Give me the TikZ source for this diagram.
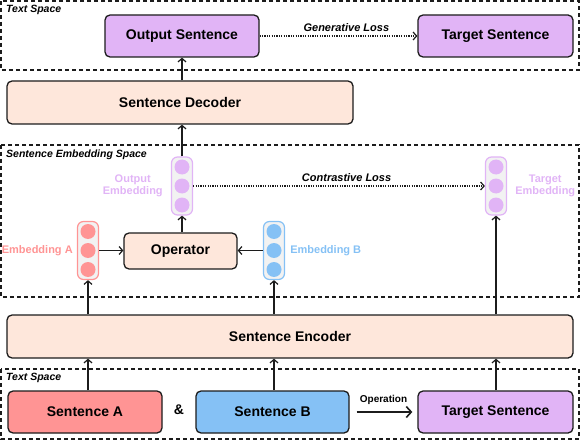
\documentclass[tikz,border=0pt]{standalone}
\usepackage{fontspec}
\setmainfont{Liberation Sans}
\usetikzlibrary{arrows.meta, calc, positioning}
\definecolor{SpLavender}{RGB}{225,180,246}
\definecolor{SpPeach}{RGB}{254,231,219}
\definecolor{SpRed}{RGB}{255,148,148}
\definecolor{SpBlue}{RGB}{133,193,245}
\definecolor{SpInk}{RGB}{28,28,28}
\definecolor{SpVecBg}{RGB}{242,242,242}

% embedding vector: name, position, colour
\newcommand{\embvec}[3]{%
  \node[vec, draw=#3] (#1) at (#2) {};
  \foreach \dy in {-19,0,19}
    \fill[#3] ($(#1)+(0,\dy)$) circle[radius=7.5pt];
}

\begin{document}
\begin{tikzpicture}[x=1pt, y=-1pt,
    box/.style={rectangle, rounded corners=5pt, draw=SpInk, line width=1.3pt,
                font=\fontsize{14}{16}\selectfont\bfseries, inner sep=0pt},
    vec/.style={rectangle, rounded corners=6pt, fill=SpVecBg, line width=1.2pt,
                minimum width=21pt, minimum height=58pt, inner sep=0pt},
    region/.style={draw=SpInk, line width=1.3pt, dash pattern=on 4pt off 3pt},
    tag/.style={font=\fontsize{10.5}{12}\selectfont\bfseries\itshape, anchor=west, inner sep=0pt},
    veclabel/.style={font=\fontsize{11}{12.6}\selectfont\bfseries, align=center, inner sep=0pt},
    arr/.style={-{Straight Barb[length=3.5pt, width=8pt]}, draw=SpInk, line width=1.2pt},
    loss/.style={arr, dash pattern=on 1.2pt off 1.2pt},
    losslabel/.style={font=\fontsize{11}{12}\selectfont\bfseries\itshape, inner sep=0pt},
    oparr/.style={-{Straight Barb[length=5pt, width=11pt]}, draw=SpInk, line width=1.6pt}
  ]
  \useasboundingbox (0,0) rectangle (581,441);

  % regions
  \draw[region] (1,1) rectangle (579,70);
  \draw[region] (1,145) rectangle (579,297);
  \draw[region] (1,369) rectangle (579,439);
  \node[tag] (toptag) at (6,10) {Text Space};
  \node[tag] (embtag) at (6,155) {Sentence Embedding Space};
  \node[tag] (bottag) at (6,378) {Text Space};

  % text space (top)
  \node[box, fill=SpLavender, minimum width=154pt, minimum height=42pt] (outs) at (182,36) {Output Sentence};
  \node[box, fill=SpLavender, minimum width=155pt, minimum height=42pt] (tgts) at (495.5,36) {Target Sentence};
  \node[box, fill=SpPeach, minimum width=346pt, minimum height=43pt] (dec) at (180,102.5) {Sentence Decoder};

  % embedding space
  \embvec{oute}{182,186}{SpLavender}
  \embvec{tgte}{496,186}{SpLavender}
  \embvec{emba}{88,250.5}{SpRed}
  \embvec{embb}{274,250.5}{SpBlue}
  \node[box, fill=SpPeach, minimum width=113pt, minimum height=36pt] (op) at (180.5,251) {Operator};

  \node[veclabel, text=SpLavender, left=8pt of oute] (outelbl) {Output\\Embedding};
  \node[veclabel, text=SpLavender, right=8pt of tgte] (tgtelbl) {Target\\Embedding};
  \node[veclabel, text=SpRed, left=4pt of emba] (embalbl) {Embedding A};
  \node[veclabel, text=SpBlue, right=5pt of embb] (embblbl) {Embedding B};

  % encoder
  \node[box, fill=SpPeach, minimum width=566pt, minimum height=43pt] (enc) at (290,336.5) {Sentence Encoder};

  % text space (bottom)
  \node[box, fill=SpRed, minimum width=154pt, minimum height=42pt] (sa) at (85,412) {Sentence A};
  \node[font=\fontsize{14}{16}\selectfont\bfseries] (amp) at (179,410) {\&};
  \node[box, fill=SpBlue, minimum width=153pt, minimum height=42pt] (sb) at (272.5,412) {Sentence B};
  \node[box, fill=SpLavender, minimum width=155pt, minimum height=42pt] (tgtin) at (495.5,412) {Target Sentence};

  % connectors
  \draw[arr] (outs.south |- dec.north) -- (outs.south);
  \draw[arr] (oute.north) -- (oute.north |- dec.south);
  \draw[arr] (oute.south |- op.north) -- (oute.south);
  \draw[arr] (emba.east) -- (emba.east -| op.west);
  \draw[arr] (embb.west) -- (embb.west -| op.east);
  \draw[loss] (outs.east) -- (tgts.west)
    node[losslabel, pos=0.55, above=4pt] (genloss) {Generative Loss};
  \draw[loss] (oute.east) -- (tgte.west)
    node[losslabel, pos=0.526, above=4pt] (conloss) {Contrastive Loss};
  \foreach \src/\dst in {sa/emba, sb/embb, tgtin/tgte} {
    \draw[arr] (\dst.south |- \src.north) -- (\dst.south |- enc.south);
    \draw[arr] (\dst.south |- enc.north) -- (\dst.south);
  }
  \draw[oparr, shorten <=7pt, shorten >=5pt] (sb.east) -- (tgtin.west)
    node[midway, above=7pt, font=\fontsize{10}{12}\selectfont\bfseries, inner sep=0pt] (opname) {Operation};
\end{tikzpicture}
\end{document}
